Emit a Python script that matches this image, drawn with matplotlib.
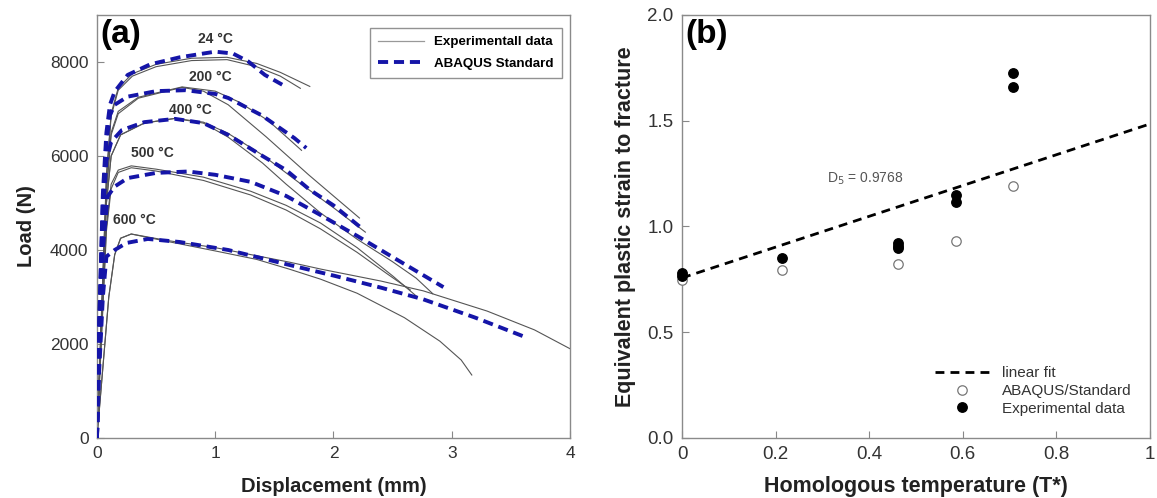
import matplotlib
matplotlib.use("Agg")
import matplotlib.pyplot as plt
from matplotlib.lines import Line2D

plt.rcParams['font.family'] = ['Liberation Sans', 'DejaVu Sans']

# ---- panel (a): load-displacement curves ----
# experimental curves (two tests per temperature)
exp24a_x = [0, 0.04, 0.08, 0.12, 0.18, 0.3, 0.5, 0.8, 1.1, 1.35, 1.55, 1.8]
exp24a_y = [0, 2800, 5600, 6900, 7450, 7750, 7950, 8080, 8100, 7970, 7780, 7480]
exp24b_x = [0, 0.04, 0.08, 0.12, 0.18, 0.3, 0.5, 0.8, 1.1, 1.35, 1.55, 1.72]
exp24b_y = [0, 2700, 5500, 6850, 7400, 7700, 7900, 8030, 8050, 7900, 7700, 7440]

exp200a_x = [0, 0.04, 0.08, 0.12, 0.18, 0.35, 0.72, 1.0, 1.2, 1.45, 1.73]
exp200a_y = [0, 2600, 5300, 6500, 6950, 7250, 7470, 7380, 7150, 6750, 6120]
exp200b_x = [0, 0.04, 0.08, 0.12, 0.18, 0.35, 0.72, 0.9, 1.11, 1.43, 1.79, 2.0, 2.22]
exp200b_y = [0, 2600, 5200, 6450, 6900, 7230, 7460, 7380, 7090, 6410, 5600, 5150, 4680]

exp400a_x = [0, 0.04, 0.08, 0.12, 0.2, 0.4, 0.66, 0.9, 1.11, 1.4, 1.7, 2.0, 2.27]
exp400a_y = [0, 2500, 5000, 6000, 6450, 6700, 6800, 6720, 6480, 6020, 5450, 4900, 4380]
exp400b_x = [0, 0.04, 0.08, 0.12, 0.2, 0.4, 0.66, 0.9, 1.11, 1.4, 1.6, 1.89, 2.2, 2.5, 2.7, 2.84]
exp400b_y = [0, 2500, 5000, 6000, 6450, 6700, 6800, 6700, 6400, 5850, 5400, 4790, 4230, 3750, 3400, 3070]

exp500a_x = [0, 0.04, 0.08, 0.12, 0.18, 0.29, 0.5, 0.9, 1.3, 1.6, 1.89, 2.2, 2.5, 2.71]
exp500a_y = [0, 2300, 4500, 5400, 5700, 5790, 5720, 5550, 5250, 4950, 4575, 4050, 3450, 3000]
exp500b_x = [0, 0.04, 0.08, 0.12, 0.18, 0.29, 0.5, 0.9, 1.3, 1.6, 1.89, 2.2, 2.45, 2.65]
exp500b_y = [0, 2200, 4400, 5300, 5650, 5750, 5680, 5480, 5170, 4850, 4450, 3950, 3500, 3150]

exp600a_x = [0, 0.05, 0.1, 0.15, 0.2, 0.29, 0.6, 1.0, 1.63, 1.9, 2.4, 2.76, 3.3, 3.7, 4.0]
exp600a_y = [0, 1500, 3000, 3900, 4250, 4340, 4200, 4050, 3740, 3590, 3340, 3130, 2700, 2300, 1900]
exp600b_x = [0, 0.05, 0.1, 0.15, 0.2, 0.29, 0.6, 1.0, 1.35, 1.63, 1.89, 2.2, 2.6, 2.9, 3.08, 3.17]
exp600b_y = [0, 1500, 3000, 3900, 4250, 4340, 4180, 3980, 3800, 3590, 3380, 3080, 2560, 2060, 1660, 1340]

# ABAQUS Standard simulations
fe24_x = [0, 0.02, 0.05, 0.08, 0.11, 0.15, 0.26, 0.45, 0.7, 1.0, 1.15, 1.28, 1.42, 1.6]
fe24_y = [0, 2500, 5200, 6500, 7090, 7370, 7725, 7950, 8100, 8220, 8180, 8010, 7725, 7470]
fe200_x = [0, 0.02, 0.05, 0.08, 0.11, 0.15, 0.26, 0.5, 0.75, 1.0, 1.11, 1.39, 1.67, 1.77]
fe200_y = [0, 2500, 5000, 6300, 6870, 7090, 7263, 7380, 7400, 7320, 7235, 6870, 6380, 6170]
fe400_x = [0, 0.02, 0.05, 0.08, 0.12, 0.21, 0.4, 0.66, 0.9, 1.11, 1.4, 1.6, 1.8, 2.0, 2.25]
fe400_y = [0, 2300, 4700, 5900, 6300, 6550, 6720, 6790, 6700, 6450, 6000, 5700, 5280, 4950, 4440]
fe500_x = [0, 0.02, 0.05, 0.09, 0.15, 0.26, 0.5, 0.77, 1.0, 1.3, 1.6, 1.89, 2.2, 2.5, 2.93]
fe500_y = [0, 2000, 4000, 5140, 5350, 5530, 5640, 5670, 5600, 5450, 5150, 4745, 4300, 3850, 3210]
fe600_x = [0, 0.02, 0.05, 0.08, 0.15, 0.25, 0.43, 0.7, 1.11, 1.63, 2.01, 2.4, 2.76, 3.2, 3.63]
fe600_y = [0, 1500, 3000, 3860, 4000, 4150, 4235, 4170, 4000, 3680, 3450, 3200, 2950, 2560, 2140]

temp_labels = ['24 \u00b0C', '200 \u00b0C', '400 \u00b0C', '500 \u00b0C', '600 \u00b0C']
label_x = [1.0, 0.96, 0.79, 0.47, 0.32]
label_y = [8480, 7680, 6980, 6060, 4640]

# ---- panel (b): fracture strain vs homologous temperature ----
exp_T = [0, 0, 0.214, 0.461, 0.461, 0.461, 0.586, 0.586, 0.708, 0.708]
exp_eps = [0.78, 0.765, 0.852, 0.92, 0.91, 0.90, 1.149, 1.118, 1.726, 1.66]
fem_T = [0, 0.214, 0.461, 0.586, 0.708]
fem_eps = [0.747, 0.796, 0.825, 0.932, 1.19]
fit_T = [0, 1]
fit_eps = [0.757, 1.485]

fig = plt.figure(figsize=(11.57, 4.98), dpi=100)
ax1 = fig.add_axes([0.0838, 0.1205, 0.4088, 0.8494])
ax2 = fig.add_axes([0.5895, 0.1205, 0.4045, 0.8494])

grey = '#555555'
blue = '#1515a8'
dash_style = (0, (2.6, 1.5))

exp_curves = [(exp24a_x, exp24a_y), (exp24b_x, exp24b_y),
              (exp200a_x, exp200a_y), (exp200b_x, exp200b_y),
              (exp400a_x, exp400a_y), (exp400b_x, exp400b_y),
              (exp500a_x, exp500a_y), (exp500b_x, exp500b_y),
              (exp600a_x, exp600a_y), (exp600b_x, exp600b_y)]
fe_curves = [(fe24_x, fe24_y), (fe200_x, fe200_y), (fe400_x, fe400_y),
             (fe500_x, fe500_y), (fe600_x, fe600_y)]

for x, y in exp_curves:
    ax1.plot(x, y, color=grey, lw=0.8, zorder=2)
for x, y in fe_curves:
    ax1.plot(x, y, color=blue, lw=2.8, ls=dash_style, zorder=3)

for t, lx, ly in zip(temp_labels, label_x, label_y):
    ax1.text(lx, ly, t, fontsize=10, fontweight='bold', color='#333333',
             ha='center', va='center')

ax1.set_xlim(0, 4)
ax1.set_ylim(0, 9000)
ax1.set_xticks([0, 1, 2, 3, 4])
ax1.set_yticks([0, 2000, 4000, 6000, 8000])
ax1.set_xlabel('Displacement (mm)', fontsize=14.5, fontweight='bold',
               color='#222222', labelpad=11)
ax1.set_ylabel('Load (N)', fontsize=14.5, fontweight='bold', color='#222222',
               labelpad=10)
ax1.text(0.008, 0.99, '(a)', transform=ax1.transAxes, fontsize=24,
         fontweight='bold', va='top', ha='left')

leg_a = [Line2D([], [], color='#999999', lw=0.9),
         Line2D([], [], color=blue, lw=2.8, ls=dash_style)]
ax1.legend(leg_a, ['Experimentall data', 'ABAQUS Standard'], loc='upper right',
           bbox_to_anchor=(0.997, 0.985), frameon=True, fancybox=False,
           edgecolor='#777777', prop={'weight': 'bold', 'size': 9.6},
           handlelength=3.4, borderpad=0.6, labelspacing=0.7)

ax2.plot(fit_T, fit_eps, color='black', lw=2, ls=(0, (3.2, 2.2)), zorder=2,
         label='linear fit', clip_on=False)
ax2.plot(fem_T, fem_eps, ls='none', marker='o', ms=6.8, mfc='white',
         mec='#777777', mew=0.9, zorder=3, label='ABAQUS/Standard', clip_on=False)
ax2.plot(exp_T, exp_eps, ls='none', marker='o', ms=6.8, mfc='black',
         mec='black', zorder=4, label='Experimental data', clip_on=False)
ax2.text(0.309, 1.225, 'D$_5$ = 0.9768', fontsize=10, color='#555555',
         ha='left', va='center')

ax2.set_xlim(0, 1)
ax2.set_ylim(0, 2)
ax2.set_xticks([0, 0.2, 0.4, 0.6, 0.8, 1])
ax2.set_xticklabels(['0', '0.2', '0.4', '0.6', '0.8', '1'])
ax2.set_yticks([0, 0.5, 1.0, 1.5, 2.0])
ax2.set_yticklabels(['0.0', '0.5', '1.0', '1.5', '2.0'])
ax2.set_xlabel('Homologous temperature (T*)', fontsize=15.5, fontweight='bold',
               color='#222222', labelpad=9)
ax2.set_ylabel('Equivalent plastic strain to fracture', fontsize=15.5,
               fontweight='bold', color='#222222', labelpad=8)
ax2.text(0.008, 0.99, '(b)', transform=ax2.transAxes, fontsize=24,
         fontweight='bold', va='top', ha='left')
ax2.legend(loc='lower right', bbox_to_anchor=(0.99, 0.02), frameon=False,
           prop={'size': 11}, handlelength=3.6, labelspacing=0.25,
           labelcolor='#333333')

for ax in (ax1, ax2):
    for s in ax.spines.values():
        s.set_color('#8a8a8a')
        s.set_linewidth(1.0)
    ax.tick_params(direction='in', length=5, width=0.8, color='#888888',
                   labelsize=12.5, labelcolor='#333333', pad=6)
ax2.tick_params(labelsize=13.5)

fig.savefig('out.png', dpi=100)
